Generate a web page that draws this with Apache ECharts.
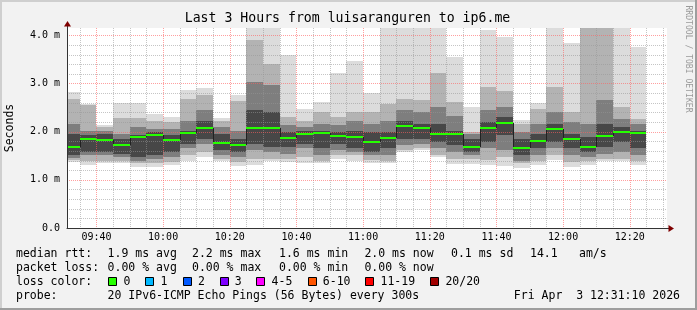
<!DOCTYPE html>
<html><head><meta charset="utf-8">
<script src="https://cdn.jsdelivr.net/npm/echarts@6/dist/echarts.min.js"></script>
<style>html,body{margin:0;padding:0;background:#f2f2f2}#c{width:697px;height:310px}</style>
</head><body><div id="c"></div>
<script>
// ---------------- data ----------------
const binEnds = ['09:35','09:40','09:45','09:50','09:55','10:00','10:05','10:10','10:15','10:20','10:25','10:30','10:35','10:40','10:45','10:50','10:55','11:00','11:05','11:10','11:15','11:20','11:25','11:30','11:35','11:40','11:45','11:50','11:55','12:00','12:05','12:10','12:15','12:20','12:25'];
const pingMin = [1.37,1.30,1.34,1.34,1.27,1.27,1.30,1.38,1.47,1.39,1.28,1.30,1.40,1.37,1.34,1.35,1.44,1.40,1.34,1.34,1.57,1.62,1.47,1.33,1.33,1.31,1.29,1.24,1.31,1.42,1.27,1.30,1.38,1.38,1.31];
const pingLo1 = [1.42,1.40,1.40,1.40,1.34,1.34,1.37,1.51,1.58,1.44,1.37,1.44,1.44,1.44,1.47,1.40,1.51,1.51,1.42,1.40,1.62,1.65,1.51,1.44,1.44,1.42,1.47,1.34,1.40,1.51,1.37,1.40,1.44,1.44,1.40];
const pingLo2 = [1.46,1.51,1.51,1.47,1.40,1.44,1.47,1.65,1.75,1.51,1.47,1.61,1.58,1.54,1.65,1.51,1.61,1.58,1.51,1.51,1.72,1.75,1.65,1.58,1.51,1.65,1.61,1.40,1.51,1.65,1.51,1.47,1.54,1.58,1.51];
const pingLo3 = [1.51,1.58,1.58,1.54,1.47,1.51,1.58,1.75,1.85,1.61,1.58,1.75,1.69,1.69,1.75,1.65,1.75,1.65,1.58,1.65,1.85,1.85,1.78,1.72,1.58,1.78,1.92,1.51,1.65,1.78,1.65,1.58,1.69,1.78,1.65];
const median  = [1.69,1.84,1.82,1.73,1.88,1.92,1.82,1.98,2.07,1.76,1.73,2.07,2.07,1.86,1.96,1.98,1.90,1.88,1.78,1.86,2.11,2.07,1.96,1.96,1.69,2.07,2.17,1.65,1.80,2.05,1.84,1.69,1.90,2.00,1.98];
const pingHi3 = [1.96,1.92,1.96,1.85,1.92,1.99,1.92,2.02,2.23,1.96,1.85,2.45,2.41,1.99,2.02,2.02,1.99,2.02,1.99,1.99,2.23,2.16,2.16,2.02,1.85,2.20,2.30,1.85,1.96,2.16,1.96,1.89,2.16,2.10,2.02];
const pingHi2 = [2.16,2.02,2.02,1.96,2.10,2.06,2.06,2.23,2.44,2.10,2.02,3.03,2.96,2.13,2.10,2.16,2.13,2.23,2.16,2.23,2.44,2.41,2.51,2.33,1.95,2.44,2.51,1.99,2.16,2.41,2.20,2.16,2.66,2.27,2.16];
const pingHi1 = [2.68,2.55,2.10,2.29,2.29,2.23,2.20,2.68,2.75,2.23,2.63,3.90,3.41,2.30,2.23,2.40,2.30,2.40,2.41,2.58,2.68,2.65,3.22,2.61,2.00,2.92,2.85,2.16,2.47,2.92,2.41,4.50,4.50,2.51,2.27];
const pingMax = [2.83,2.58,2.14,2.60,2.60,2.36,2.30,2.87,2.91,2.29,2.75,4.60,4.60,3.60,2.47,2.61,3.22,3.47,2.81,4.50,4.50,4.50,4.50,3.54,2.51,4.10,3.97,2.25,2.59,4.50,3.84,4.60,4.60,4.50,3.76];

const xLabels = ['09:40','10:00','10:20','10:40','11:00','11:20','11:40','12:00','12:20'];
const xGridTimes = ['09:35','09:40','09:45','09:50','09:55','10:00','10:05','10:10','10:15','10:20','10:25','10:30','10:35','10:40','10:45','10:50','10:55','11:00','11:05','11:10','11:15','11:20','11:25','11:30','11:35','11:40','11:45','11:50','11:55','12:00','12:05','12:10','12:15','12:20','12:25','12:30'];
const yMajor = [1, 2, 3, 4];
const yMinor = [0.2,0.4,0.6,0.8,1.2,1.4,1.6,1.8,2.2,2.4,2.6,2.8,3.2,3.4,3.6,3.8,4.2];
const startTime = '09:31:10';

const titleText = 'Last 3 Hours from luisaranguren to ip6.me';
const rttHead = 'median rtt:';
const rttItems = ['1.9 ms avg','2.2 ms max','1.6 ms min','2.0 ms now','0.1 ms sd','14.1','am/s'];
const lossHead = 'packet loss:';
const lossItems = ['0.00 % avg','0.00 % max','0.00 % min','0.00 % now'];
const colorHead = 'loss color:';
const lossLabels = ['0','1','2','3','4-5','6-10','11-19','20/20'];
const lossColors = ['#26ff00','#00b8ff','#0059ff','#7e00ff','#ff00ff','#ff5500','#ff0000','#a10000'];
const probeHead = 'probe:';
const probeText = '20 IPv6-ICMP Echo Pings (56 Bytes) every 300s';
const dateText = 'Fri Apr  3 12:31:10 2026';

// ---------------- layout / style ----------------
const MONO = '"DejaVu Sans Mono", monospace';
const G = {left: 67, top: 28, width: 600, height: 200};
const Y_MAX = 4.15;
const smokeColors = ['#dcdcdc', '#b3b3b3', '#7e7e7e', '#474747'];
const rttX = [107.6, 192, 279, 364.4, 451, 530, 579];
const lossX = [107.6, 192, 279, 364.4];
const boxX = [108.4, 145.3, 182.7, 219.6, 256.4, 307.6, 365.3, 430.2];
const rowY = [254, 268, 282, 296];

function toMin(s) { const p = s.split(':').map(Number); return p[0] * 60 + p[1] + (p[2] || 0) / 60; }
function pad(n) { return (n < 10 ? '0' : '') + n; }
function fmt(v) { const m = Math.round(v); return pad(Math.floor(m / 60)) + ':' + pad(m % 60); }
const startMin = toMin(startTime);
const endMin = startMin + 180;

const chart = echarts.init(document.getElementById('c'), null, {renderer: 'canvas', width: 697, height: 310});

const smokeData = binEnds.map((t, i) => [toMin(t), pingMin[i], pingLo1[i], pingLo2[i], pingLo3[i], pingHi3[i], pingHi2[i], pingHi1[i], pingMax[i]]);
const medData = binEnds.map((t, i) => [toMin(t), median[i]]);
const vGridData = xGridTimes.map(t => [toMin(t), 0, xLabels.includes(t) ? 1 : 0]);
const hGridData = yMajor.map(v => [startMin, v, 1]).concat(yMinor.map(v => [startMin, v, 0]));

const majorColor = 'rgba(255,95,95,0.6)';
const minorColor = 'rgba(150,150,150,0.55)';

function textEl(x, y, text, opts) {
  opts = opts || {};
  return {type: 'text', x: x, y: y, rotation: opts.rotation || 0, silent: true, z: 100,
    style: {text: text, fill: opts.fill || '#000', font: (opts.size || 11.5) + 'px ' + MONO,
      align: opts.align || 'left', verticalAlign: 'middle'}};
}

const graphics = [];
// frame
graphics.push({type: 'rect', shape: {x: 0, y: 0, width: 697, height: 2}, style: {fill: '#cfcfcf'}, silent: true});
graphics.push({type: 'rect', shape: {x: 0, y: 0, width: 2, height: 310}, style: {fill: '#cfcfcf'}, silent: true});
graphics.push({type: 'rect', shape: {x: 0, y: 308, width: 697, height: 2}, style: {fill: '#9e9e9e'}, silent: true});
graphics.push({type: 'rect', shape: {x: 695, y: 0, width: 2, height: 310}, style: {fill: '#9e9e9e'}, silent: true});
// texts
graphics.push(textEl(347.5, 19, titleText, {size: 13.2, align: 'center'}));
graphics.push(textEl(10.5, 128, 'Seconds', {size: 11.5, align: 'center', rotation: Math.PI / 2}));
graphics.push(textEl(688, 59, 'RRDTOOL / TOBI OETIKER', {size: 8.1, align: 'center', rotation: -Math.PI / 2, fill: '#9a9a9a'}));
graphics.push(textEl(16, rowY[0], rttHead));
rttItems.forEach((s, i) => graphics.push(textEl(rttX[i], rowY[0], s)));
graphics.push(textEl(16, rowY[1], lossHead));
lossItems.forEach((s, i) => graphics.push(textEl(lossX[i], rowY[1], s)));
graphics.push(textEl(16, rowY[2], colorHead));
lossLabels.forEach((s, i) => {
  graphics.push({type: 'rect', silent: true, z: 100, shape: {x: Math.round(boxX[i]) + 0.5, y: rowY[2] - 4.5, width: 8, height: 8},
    style: {fill: lossColors[i], stroke: '#000', lineWidth: 1}});
  graphics.push(textEl(boxX[i] + 15.2, rowY[2], s));
});
graphics.push(textEl(16, rowY[3], probeHead));
graphics.push(textEl(107.6, rowY[3], probeText));
graphics.push(textEl(680, rowY[3], dateText, {align: 'right'}));
// axis arrows
const axY = G.top + G.height + 0.5, axX = G.left + 0.5;
graphics.push({type: 'line', silent: true, z: 100, shape: {x1: G.left + G.width, y1: axY, x2: G.left + G.width + 3, y2: axY}, style: {stroke: '#333', lineWidth: 1}});
graphics.push({type: 'polygon', silent: true, z: 100, shape: {points: [[G.left + G.width + 1.5, axY - 3.5], [G.left + G.width + 7, axY], [G.left + G.width + 1.5, axY + 3.5]]}, style: {fill: '#7f0000'}});
graphics.push({type: 'line', silent: true, z: 100, shape: {x1: axX, y1: G.top, x2: axX, y2: G.top - 2}, style: {stroke: '#333', lineWidth: 1}});
graphics.push({type: 'polygon', silent: true, z: 100, shape: {points: [[axX - 3.5, G.top - 1.5], [axX, G.top - 7], [axX + 3.5, G.top - 1.5]]}, style: {fill: '#7f0000'}});

const option = {
  backgroundColor: '#f2f2f2',
  animation: false,
  grid: {left: G.left, top: G.top, width: G.width, height: G.height, show: true, backgroundColor: '#ffffff', borderWidth: 0},
  xAxis: {
    type: 'value', min: startMin, max: endMin, z: 10,
    axisLine: {show: true, lineStyle: {color: '#333', width: 1}},
    axisTick: {show: false},
    splitLine: {show: false},
    axisLabel: {customValues: xLabels.map(toMin), formatter: v => fmt(v), fontFamily: MONO, fontSize: 10, color: '#000', margin: 4, showMinLabel: true, showMaxLabel: true}
  },
  yAxis: {
    type: 'value', min: 0, max: Y_MAX, interval: 1, z: 10,
    axisLine: {show: true, lineStyle: {color: '#333', width: 1}},
    axisTick: {show: false},
    splitLine: {show: false},
    axisLabel: {formatter: v => v === 0 ? '0.0' : v.toFixed(1) + ' m', showMaxLabel: false, fontFamily: MONO, fontSize: 10, color: '#000', margin: 7}
  },
  graphic: graphics,
  series: [
    {
      type: 'custom', name: 'smoke', silent: true, z: 2, data: smokeData,
      renderItem(params, api) {
        const t1 = api.value(0), t0 = t1 - 5;
        const cs = params.coordSys;
        const pairs = [[1, 8], [2, 7], [3, 6], [4, 5]];
        const children = [];
        pairs.forEach((pr, k) => {
          const a = api.coord([t0, api.value(pr[1])]);
          const b = api.coord([t1, api.value(pr[0])]);
          const x0 = Math.round(a[0]), x1 = Math.round(b[0]);
          const y0 = Math.round(a[1]), y1 = Math.round(b[1]);
          const r = echarts.graphic.clipRectByRect({x: x0, y: y0, width: x1 - x0, height: y1 - y0}, {x: cs.x, y: cs.y, width: cs.width, height: cs.height});
          if (r && r.width > 0 && r.height > 0) children.push({type: 'rect', shape: r, style: {fill: smokeColors[k]}});
        });
        return {type: 'group', children};
      }
    },
    {
      type: 'custom', name: 'vgrid', silent: true, z: 3, data: vGridData,
      renderItem(params, api) {
        const cs = params.coordSys;
        const x = Math.round(api.coord([api.value(0), 0])[0]) + 0.5;
        return {type: 'line', shape: {x1: x, y1: cs.y, x2: x, y2: cs.y + cs.height},
          style: {stroke: api.value(2) ? majorColor : minorColor, lineWidth: 1, lineDash: [1, 1]}};
      }
    },
    {
      type: 'custom', name: 'hgrid', silent: true, z: 3, data: hGridData,
      renderItem(params, api) {
        const cs = params.coordSys;
        const v = api.value(1);
        if (v > Y_MAX) return null;
        const y = Math.round(api.coord([api.value(0), v])[1]) + 0.5;
        return {type: 'line', shape: {x1: cs.x, y1: y, x2: cs.x + cs.width, y2: y},
          style: {stroke: api.value(2) ? majorColor : minorColor, lineWidth: 1, lineDash: [1, 1]}};
      }
    },
    {
      type: 'custom', name: 'median', silent: true, z: 4, data: medData,
      renderItem(params, api) {
        const i = params.dataIndex;
        const cs = params.coordSys;
        const t1 = api.value(0), t0 = t1 - 5, m = api.value(1);
        const a = api.coord([t0, m]), b = api.coord([t1, m]);
        const x0 = Math.max(Math.round(a[0]), cs.x), x1 = Math.round(b[0]);
        const y = Math.round(a[1]);
        const ch = [];
        if (i > 0) {
          const p = api.coord([t0, median[i - 1]]);
          ch.push({type: 'line', shape: {x1: x0 + 0.5, y1: Math.round(p[1]), x2: x0 + 0.5, y2: y}, style: {stroke: '#222', lineWidth: 1}});
        }
        ch.push({type: 'rect', shape: {x: x0, y: y - 1, width: x1 - x0, height: 2}, style: {fill: '#26ff00'}});
        return {type: 'group', children: ch};
      }
    }
  ]
};
chart.setOption(option);
</script>
</body></html>
